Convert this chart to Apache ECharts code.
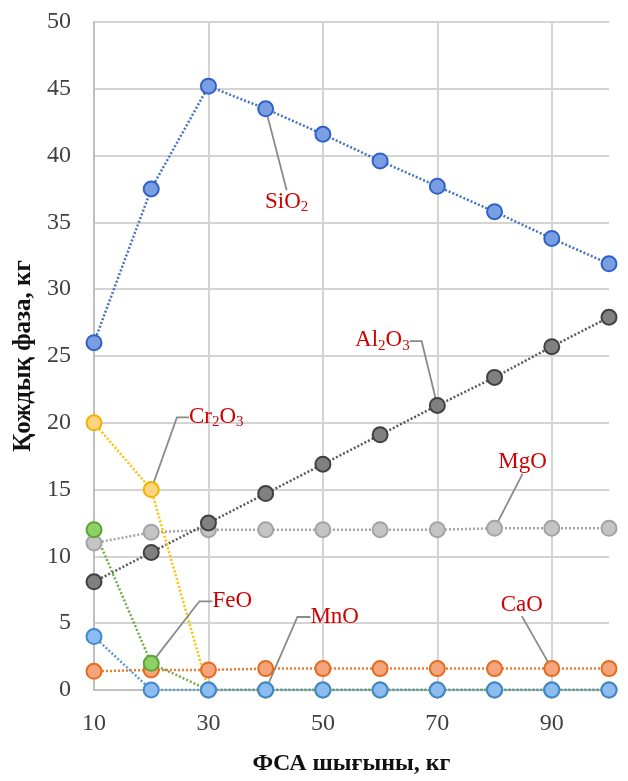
<!DOCTYPE html>
<html>
<head>
<meta charset="utf-8">
<script src="https://cdn.jsdelivr.net/npm/echarts@6/dist/echarts.min.js"></script>
<style>
html,body{margin:0;padding:0;background:#fff;}
#chart{width:628px;height:781px;}
</style>
</head>
<body>
<div id="chart"></div>
<script>
// ---- data ----
const xValues = [10, 20, 30, 40, 50, 60, 70, 80, 90, 100];
const sio2  = [26.0, 37.5, 45.2, 43.5, 41.6, 39.6, 37.7, 35.8, 33.8, 31.9];
const al2o3 = [8.1, 10.3, 12.5, 14.7, 16.9, 19.1, 21.3, 23.4, 25.7, 27.9];
const mgo   = [11.0, 11.8, 12.0, 12.0, 12.0, 12.0, 12.0, 12.1, 12.1, 12.1];
const cr2o3 = [20.0, 15.0, 0, 0, 0, 0, 0, 0, 0, 0];
const cao   = [1.4, 1.5, 1.5, 1.6, 1.6, 1.6, 1.6, 1.6, 1.6, 1.6];
const feo   = [12.0, 2.0, 0, 0, 0, 0, 0, 0, 0, 0];
const mno   = [4.0, 0, 0, 0, 0, 0, 0, 0, 0, 0];
const yTicks = { min: 0, max: 50, step: 5 };
const xTicks = { min: 10, max: 100, step: 10 };
const xTitle = 'ФСА шығыны, кг';
const yTitle = 'Қождық фаза, кг';

const SERIF = '"Liberation Serif", "Times New Roman", serif';
const RED = '#d00000';

// series definitions: name, values, colours, annotated point index, label text, offsets
const seriesDefs = [
  { name: 'SiO2',  vals: sio2,  line: '#4472C4', fill: '#7a9ee2', border: '#2f62c8', at: 3, text: '{m|SiO}{s|2}',          dx: 21,  dy: 93,  len2: 0 },
  { name: 'MgO',   vals: mgo,   line: '#a5a5a5', fill: '#c4c4c4', border: '#a3a3a3', at: 7, text: '{m|MgO}',               dx: 28,  dy: -66, len2: 0 },
  { name: 'Al2O3', vals: al2o3, line: '#5a5a5a', fill: '#808080', border: '#404040', at: 6, text: '{m|Al}{s|2}{m|O}{s|3}', dx: -55, dy: -65, len2: 12 },
  { name: 'Cr2O3', vals: cr2o3, line: '#FFC000', fill: '#ffd47e', border: '#f2b200', at: 1, text: '{m|Cr}{s|2}{m|O}{s|3}', dx: 65,  dy: -73, len2: 12 },
  { name: 'CaO',   vals: cao,   line: '#ED7D31', fill: '#f5a47c', border: '#e46c1c', at: 8, text: '{m|CaO}',               dx: -30, dy: -64, len2: 0 },
  { name: 'FeO',   vals: feo,   line: '#70AD47', fill: '#8fd166', border: '#5aa535', at: 1, text: '{m|FeO}',               dx: 81,  dy: -62, len2: 13 },
  { name: 'MnO',   vals: mno,   line: '#5B9BD5', fill: '#8dbcf0', border: '#3e88d2', at: 3, text: '{m|MnO}',               dx: 69,  dy: -73, len2: 13 }
];

const richStyles = {
  m: { fontFamily: SERIF, fontSize: 23, color: RED, lineHeight: 26, verticalAlign: 'middle' },
  s: { fontFamily: SERIF, fontSize: 15, color: RED, lineHeight: 9, verticalAlign: 'bottom' }
};

const series = seriesDefs.map(function (d) {
  const data = d.vals.map(function (v, i) {
    const item = { value: [xValues[i], v] };
    if (i === d.at) {
      item.label = { show: true, position: 'inside', formatter: d.text, rich: richStyles, padding: [3, 8, 3, 8] };
      item.labelLine = { show: true, length2: d.len2, lineStyle: { color: '#8a8a8a', width: 1.8 } };
    }
    return item;
  });
  return {
    name: d.name,
    type: 'line',
    data: data,
    symbol: 'circle',
    symbolSize: 15,
    showAllSymbol: true,
    lineStyle: { color: d.line, width: 2.5, type: [2, 2] },
    itemStyle: { color: d.fill, borderColor: d.border, borderWidth: 2 },
    label: { show: false },
    labelLayout: { dx: d.dx, dy: d.dy },
    emphasis: { disabled: true },
    animation: false
  };
});

const chart = echarts.init(document.getElementById('chart'), null, { renderer: 'canvas' });
chart.setOption({
  backgroundColor: '#ffffff',
  animation: false,
  grid: { left: 94, right: 19, top: 22, bottom: 87, containLabel: false },
  xAxis: {
    type: 'value',
    min: xTicks.min, max: xTicks.max, interval: xTicks.step,
    name: xTitle, nameLocation: 'middle', nameGap: 62,
    nameTextStyle: { fontFamily: SERIF, fontSize: 24, fontWeight: 'bold', color: '#111' },
    axisLine: { show: true, lineStyle: { color: '#bfbfbf', width: 2 } },
    axisTick: { show: false },
    axisLabel: {
      fontFamily: SERIF, fontSize: 24, color: '#404040', margin: 22,
      formatter: function (v) { return ((v - 10) % 20 === 0 && v < 100) ? String(v) : ''; }
    },
    splitLine: { show: true, lineStyle: { color: ['#d4d4d4', 'rgba(0,0,0,0)'], width: 2 } }
  },
  yAxis: {
    type: 'value',
    min: yTicks.min, max: yTicks.max, interval: yTicks.step,
    name: yTitle, nameLocation: 'middle', nameGap: 56,
    nameTextStyle: { fontFamily: SERIF, fontSize: 25, fontWeight: 'bold', color: '#111' },
    axisLine: { show: true, lineStyle: { color: '#bfbfbf', width: 2 } },
    axisTick: { show: false },
    axisLabel: { fontFamily: SERIF, fontSize: 24, color: '#404040', margin: 23 },
    splitLine: { show: true, lineStyle: { color: '#d4d4d4', width: 2 } }
  },
  series: series
});
</script>
</body>
</html>
